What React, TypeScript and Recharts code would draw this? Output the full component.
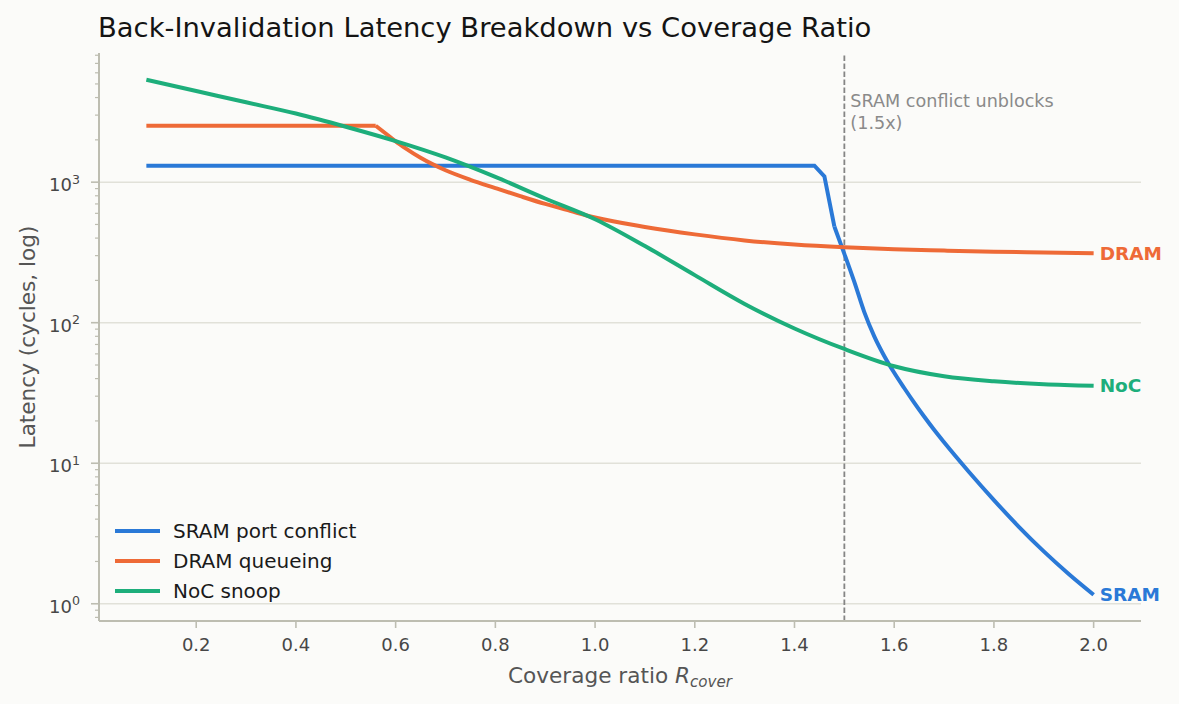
import React from 'react';
import {
  LineChart,
  Line,
  XAxis,
  YAxis,
  CartesianGrid,
  ReferenceLine,
  Legend,
  Label,
} from 'recharts';

// ---------------------------------------------------------------------------
// Data
// ---------------------------------------------------------------------------

const sramX = [0.1, 1.44, 1.46, 1.48, 1.5, 1.52, 1.54, 1.56, 1.58, 1.6, 1.62, 1.64, 1.66, 1.68, 1.7, 1.75, 1.8, 1.85, 1.9, 1.95, 2.0];
const sramY = [1310, 1310, 1100, 483, 309, 195, 119, 80, 58, 44, 34.3, 27, 21.5, 17.3, 14.1, 8.67, 5.47, 3.53, 2.36, 1.63, 1.16];

const dramX = [0.1, 0.56, 0.58, 0.6, 0.62, 0.65, 0.7, 0.75, 0.8, 0.85, 0.9, 0.95, 1.0, 1.1, 1.2, 1.3, 1.4, 1.5, 1.6, 1.7, 1.8, 1.9, 2.0];
const dramY = [2520, 2520, 2220, 1950, 1740, 1490, 1215, 1040, 908, 795, 700, 625, 560, 480, 425, 385, 360, 344, 333, 326, 320, 316, 312];

const nocX = [0.1, 0.2, 0.3, 0.4, 0.5, 0.6, 0.7, 0.8, 0.9, 1.0, 1.1, 1.2, 1.3, 1.4, 1.5, 1.6, 1.7, 1.8, 1.9, 2.0];
const nocY = [5350, 4450, 3700, 3080, 2480, 1960, 1500, 1090, 765, 545, 351, 218, 136, 91, 65, 49, 41.6, 38.3, 36.5, 35.6];

const xTicks = [0.2, 0.4, 0.6, 0.8, 1.0, 1.2, 1.4, 1.6, 1.8, 2.0];
const yMajorTicks = [1, 10, 100, 1000];
const yMinorTicks = [
  0.8, 0.9,
  2, 3, 4, 5, 6, 7, 8, 9,
  20, 30, 40, 50, 60, 70, 80, 90,
  200, 300, 400, 500, 600, 700, 800, 900,
  2000, 3000, 4000, 5000, 6000, 7000, 8000,
];

const unblockAt = 1.5;

// ---------------------------------------------------------------------------
// Styling
// ---------------------------------------------------------------------------

const FONT = '"DejaVu Sans", Verdana, sans-serif';
const BG = '#fbfbf9';
const SPINE = '#bdbdb1';
const GRID = '#e1e1d9';
const TICK_TEXT = '#474747';
const LABEL_TEXT = '#555555';

// `bend` = index where the sharp (piecewise) part ends and the smooth tail starts
const series = [
  { key: 'sram', name: 'SRAM port conflict', short: 'SRAM', color: '#2a79d7', xs: sramX, ys: sramY, bend: 3 },
  { key: 'dram', name: 'DRAM queueing', short: 'DRAM', color: '#ee6a37', xs: dramX, ys: dramY, bend: 1 },
  { key: 'noc', name: 'NoC snoop', short: 'NoC', color: '#1dae7b', xs: nocX, ys: nocY, bend: 0 },
];

const Y_TICK_SIZE = 8;
const Y_TICK_MARGIN = 11;

function YTick(props: any) {
  const { x, y, payload } = props;
  const v = payload.value as number;
  const axisX = x + Y_TICK_SIZE + Y_TICK_MARGIN;
  const major = yMajorTicks.includes(v);
  if (!major) {
    return <line x1={axisX} x2={axisX - 4} y1={y} y2={y} stroke={SPINE} strokeWidth={1.2} />;
  }
  const exp = Math.round(Math.log10(v));
  return (
    <g>
      <line x1={axisX} x2={axisX - Y_TICK_SIZE} y1={y} y2={y} stroke={SPINE} strokeWidth={1.6} />
      <text x={x} y={y + 9} textAnchor="end" fill={TICK_TEXT} fontSize={18} fontFamily={FONT}>
        10
        <tspan dy={-7.5} fontSize={12.6}>{exp}</tspan>
      </text>
    </g>
  );
}

function endLabel(text: string, color: string, last: number) {
  return (props: any) => {
    const { x, y, index } = props;
    if (index !== last) return <g />;
    return (
      <text
        x={x + 6}
        y={y}
        dominantBaseline="central"
        fill={color}
        fontSize={18.5}
        fontWeight="bold"
        fontFamily={FONT}
      >
        {text}
      </text>
    );
  };
}

function LegendBox() {
  return (
    <div style={{ fontFamily: FONT, fontSize: 20, color: '#1a1a1a' }}>
      {series.map((s) => (
        <div key={s.key} style={{ height: 30, display: 'flex', alignItems: 'center' }}>
          <svg width={45} height={6} style={{ marginRight: 13 }}>
            <line x1={0} x2={45} y1={3} y2={3} stroke={s.color} strokeWidth={4} />
          </svg>
          <span>{s.name}</span>
        </div>
      ))}
    </div>
  );
}

const toPoints = (xs: number[], ys: number[]) => xs.map((x, i) => ({ x, v: ys[i] }));

export default function App() {
  return (
    <div
      style={{
        position: 'absolute',
        left: 0,
        top: 0,
        width: 1179,
        height: 704,
        background: BG,
        fontFamily: FONT,
      }}
    >
      <div
        style={{
          position: 'absolute',
          left: 98,
          top: 14,
          fontSize: 27.4,
          lineHeight: '27px',
          color: '#141414',
          whiteSpace: 'nowrap',
        }}
      >
        Back-Invalidation Latency Breakdown vs Coverage Ratio
      </div>
      <LineChart width={1179} height={704} margin={{ top: 53, right: 38, bottom: 0, left: 0 }}>
        <CartesianGrid horizontal vertical={false} horizontalValues={yMajorTicks} stroke={GRID} strokeWidth={1.5} />
        <XAxis
          type="number"
          dataKey="x"
          domain={[0.005, 2.095]}
          allowDataOverflow
          ticks={xTicks}
          interval={0}
          tickFormatter={(v: number) => v.toFixed(1)}
          height={83}
          tickSize={7}
          tickMargin={10}
          stroke={SPINE}
          axisLine={{ stroke: SPINE, strokeWidth: 2 }}
          tickLine={{ stroke: SPINE, strokeWidth: 1.6 }}
          tick={{ fill: TICK_TEXT, fontSize: 18, fontFamily: FONT }}
        >
          <Label
            content={(p: any) => {
              const vb = p.viewBox;
              return (
                <text
                  x={vb.x + vb.width / 2}
                  y={vb.y + 61.5}
                  textAnchor="middle"
                  fill={LABEL_TEXT}
                  fontSize={21.6}
                  fontFamily={FONT}
                >
                  Coverage ratio{' '}
                  <tspan fontStyle="italic">R</tspan>
                  <tspan fontStyle="italic" fontSize={15.1} dy={4}>
                    cover
                  </tspan>
                </text>
              );
            }}
          />
        </XAxis>
        <YAxis
          type="number"
          scale="log"
          domain={[0.754, 8300]}
          allowDataOverflow
          ticks={[...yMajorTicks, ...yMinorTicks]}
          interval={0}
          width={99}
          tickSize={Y_TICK_SIZE}
          tickMargin={Y_TICK_MARGIN}
          tickLine={false}
          axisLine={{ stroke: SPINE, strokeWidth: 2 }}
          tick={<YTick />}
        >
          <Label
            content={(p: any) => {
              const vb = p.viewBox;
              const cx = 27;
              const cy = vb.y + vb.height / 2;
              return (
                <text
                  x={cx}
                  y={cy}
                  transform={`rotate(-90 ${cx} ${cy})`}
                  textAnchor="middle"
                  dominantBaseline="central"
                  fill={LABEL_TEXT}
                  fontSize={21.6}
                  fontFamily={FONT}
                >
                  Latency (cycles, log)
                </text>
              );
            }}
          />
        </YAxis>
        <ReferenceLine
          x={unblockAt}
          stroke="#858585"
          strokeWidth={1.8}
          strokeDasharray="5.5 2.5"
          label={(p: any) => {
            const vb = p.viewBox;
            return (
              <text x={vb.x + 6} y={vb.y + 54} fill="#8a8a8a" fontSize={17.6} fontFamily={FONT}>
                <tspan x={vb.x + 6}>SRAM conflict unblocks</tspan>
                <tspan x={vb.x + 6} dy={21.5}>
                  (1.5x)
                </tspan>
              </text>
            );
          }}
        />
        {series.map((s) =>
          s.bend > 0 ? (
            <Line
              key={`${s.key}-head`}
              data={toPoints(s.xs.slice(0, s.bend + 1), s.ys.slice(0, s.bend + 1))}
              dataKey="v"
              type="linear"
              stroke={s.color}
              strokeWidth={4}
              dot={false}
              activeDot={false}
              legendType="none"
              isAnimationActive={false}
            />
          ) : null
        )}
        {series.map((s) => {
          const tailX = s.xs.slice(s.bend);
          const tailY = s.ys.slice(s.bend);
          return (
            <Line
              key={s.key}
              data={toPoints(tailX, tailY)}
              dataKey="v"
              name={s.name}
              type="monotone"
              stroke={s.color}
              strokeWidth={4}
              strokeLinejoin="round"
              dot={false}
              activeDot={false}
              isAnimationActive={false}
              label={endLabel(s.short, s.color, tailX.length - 1)}
            />
          );
        })}
        <Legend
          layout="horizontal"
          verticalAlign="middle"
          align="center"
          content={() => <LegendBox />}
          wrapperStyle={{ left: 115, top: 516, width: 280, height: 90 }}
        />
      </LineChart>
    </div>
  );
}
